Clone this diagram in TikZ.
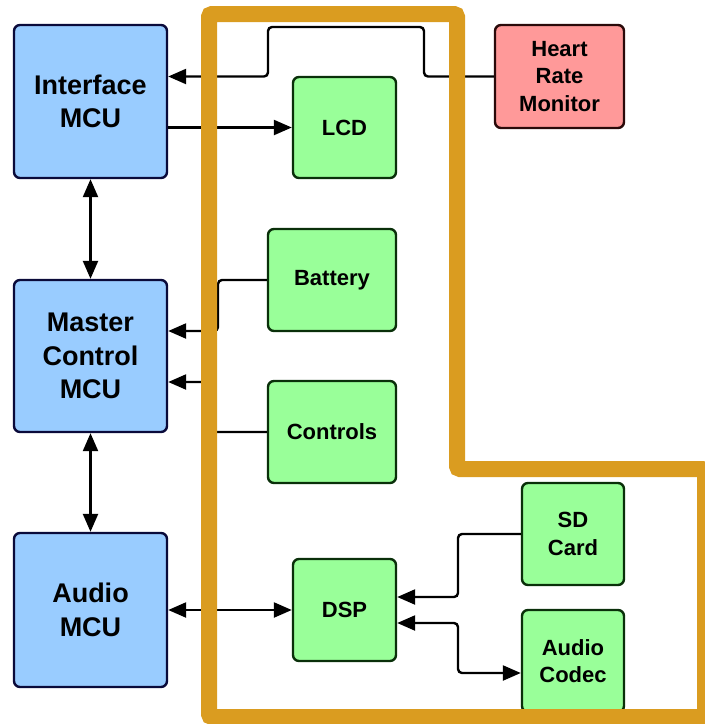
\documentclass[tikz,border=0pt]{standalone}
\usepackage{fontspec}
\setmainfont{Liberation Sans}
\usetikzlibrary{arrows.meta}
\definecolor{bluefill}{HTML}{99CCFF}
\definecolor{blueline}{HTML}{0A0A3A}
\definecolor{greenfill}{HTML}{99FF99}
\definecolor{greenline}{HTML}{0A300A}
\definecolor{pinkfill}{HTML}{FF9999}
\definecolor{pinkline}{HTML}{2A0A0A}
\definecolor{frameorange}{HTML}{DA9C20}
\tikzset{
  box/.style={draw, line width=2.4pt, rounded corners=6pt, inner sep=0pt, align=center, font=\bfseries},
  bluebox/.style={box, fill=bluefill, draw=blueline, minimum width=153pt, minimum height=153pt, font=\fontsize{27}{33.5}\bfseries\selectfont},
  greenbox/.style={box, fill=greenfill, draw=greenline, font=\fontsize{22}{27.5}\bfseries\selectfont},
  pinkbox/.style={box, fill=pinkfill, draw=pinkline, font=\fontsize{22}{27.5}\bfseries\selectfont},
  conn/.style={line width=2.4pt, rounded corners=4pt},
  arr/.style={conn, -{Triangle[length=18pt,width=15pt]}},
  darr/.style={conn, {Triangle[length=18pt,width=15pt]}-{Triangle[length=18pt,width=15pt]}},
  frame/.style={draw=frameorange, line width=16pt, rounded corners=3pt}
}
\begin{document}
\begin{tikzpicture}[x=1pt,y=-1pt]
\useasboundingbox (0,0) rectangle (705,724);
\clip (0,0) rectangle (705,724);
% blue MCUs
\node[bluebox] (im) at (90.5,101.5) {Interface\\MCU};
\node[bluebox, minimum height=152pt] (mc) at (90.5,356) {Master\\Control\\MCU};
\node[bluebox, minimum height=154pt] (am) at (90.5,610) {Audio\\MCU};
% green peripherals
\node[greenbox, minimum width=103pt, minimum height=101pt] (lcd) at (344.5,127.5) {LCD};
\node[greenbox, minimum width=128pt, minimum height=102pt] (bat) at (332,280) {Battery};
\node[greenbox, minimum width=128pt, minimum height=102pt] (ctl) at (332,432) {Controls};
\node[greenbox, minimum width=103pt, minimum height=102pt] (dsp) at (344.5,610) {DSP};
\node[greenbox, minimum width=102pt, minimum height=102pt] (sd) at (573,534) {SD\\Card};
\node[greenbox, minimum width=102pt, minimum height=102pt] (cod) at (573,661) {Audio\\Codec};
% heart rate monitor
\node[pinkbox, minimum width=129pt, minimum height=103pt] (hrm) at (559.5,76.5) {Heart\\Rate\\Monitor};
% connectors
\draw[arr] (hrm.west) -| (424,27) -| (268,76.5) -- (im.east |- hrm.west);
\draw[arr] (im.east |- lcd.west) -- (lcd.west);
\draw[darr] (im.south) -- (mc.north);
\draw[darr] (mc.south) -- (am.north);
\draw[arr] (bat.west) -| (218,331) -- (mc.east |- 0,331);
\draw[arr] (ctl.west) -| (209,382) -- (mc.east |- 0,382);
\draw[darr] (am.east) -- (dsp.west);
\draw[arr] (sd.west) -| (458,597) -- (dsp.east |- 0,597);
\draw[darr] (dsp.east |- 0,623) -| (458,673) -- (cod.west |- 0,673);
% orange frame
\draw[frame] (209,717) -- (209,14) -- (457,14) -- (457,469) -- (705,469) -- (705,717) -- cycle;
\end{tikzpicture}
\end{document}
